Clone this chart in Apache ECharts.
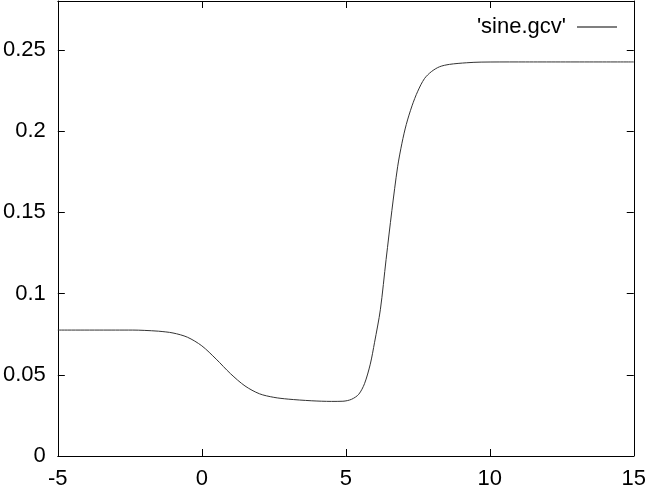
<!DOCTYPE html>
<html>
<head>
<meta charset="utf-8">
<script src="https://cdn.jsdelivr.net/npm/echarts@6/dist/echarts.min.js"></script>
<style>
  html, body { margin: 0; padding: 0; background: #fff; }
  #chart { width: 649px; height: 490px; }
</style>
</head>
<body>
<div id="chart"></div>
<script>
// values
var xs = [-5, -3, -2.4, -2, -1.5, -1, -0.5, 0, 0.5, 1, 1.5, 2, 2.5, 3, 3.8, 4.5, 4.9,
    5.2, 5.45, 5.65, 5.85, 6.0, 6.2, 6.4, 6.6, 6.8, 6.95, 7.1, 7.3, 7.5, 7.73, 7.97, 8.25, 8.6,
    9.2, 9.7, 11, 15]
var gcv = [0.0775, 0.0775, 0.0775, 0.0773, 0.0768, 0.0757, 0.0731, 0.0678, 0.0596, 0.0506,
    0.0431, 0.0383, 0.0361, 0.0350, 0.0340, 0.0336, 0.0337, 0.0349, 0.0380, 0.0445, 0.0565,
    0.070, 0.090, 0.121, 0.151, 0.178, 0.1925, 0.2040, 0.2155, 0.2245, 0.2322, 0.2365, 0.2395,
    0.2410, 0.2420, 0.2424, 0.2425, 0.2425]
var seriesName = "'sine.gcv'"

var chart = echarts.init(document.getElementById('chart'))

var font = 'Liberation Sans, Arial, sans-serif'
var axisLine = { show: true, onZero: false, lineStyle: { color: '#000', width: 1 } }
var tick = { show: true, inside: true, length: 7, lineStyle: { color: '#000' } }

chart.setOption({
    animation: false,
    grid: { left: 54, right: 15, top: 1, bottom: 31 },
    legend: {
        data: [seriesName],
        right: 27,
        top: 11,
        align: 'right',
        icon: 'rect',
        itemWidth: 40,
        itemHeight: 1,
        itemStyle: { color: '#000' },
        textStyle: { fontFamily: font, fontSize: 22, color: '#000', padding: [0, 6, 0, 0] }
    },
    xAxis: [
        {
            type: 'value', min: -5, max: 15, interval: 5,
            axisLine: axisLine, axisTick: tick, splitLine: { show: false },
            axisLabel: { fontFamily: font, fontSize: 22, color: '#000', margin: 12 }
        },
        {
            type: 'value', position: 'top', min: -5, max: 15, interval: 5,
            axisLine: axisLine, axisTick: tick, splitLine: { show: false },
            axisLabel: { show: false }
        }
    ],
    yAxis: [
        {
            type: 'value', min: 0, max: 0.28, interval: 0.05,
            axisLine: axisLine, axisTick: tick, splitLine: { show: false },
            axisLabel: { fontFamily: font, fontSize: 22, color: '#000', margin: 12, showMaxLabel: false }
        },
        {
            type: 'value', position: 'right', min: 0, max: 0.28, interval: 0.05,
            axisLine: axisLine, axisTick: tick, splitLine: { show: false },
            axisLabel: { show: false }
        }
    ],
    series: [
        {
            name: seriesName,
            type: 'line',
            smooth: 0.3,
            symbol: 'none',
            xAxisIndex: 0,
            yAxisIndex: 0,
            color: '#222',
            lineStyle: { width: 1, color: '#333' },
            data: xs.map(function (x, i) { return [x, gcv[i]] })
        }
    ]
})
</script>
</body>
</html>
